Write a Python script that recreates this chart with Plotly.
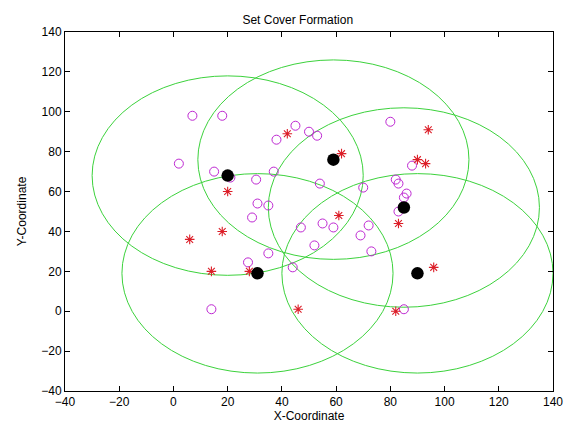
import plotly.graph_objects as go

# Data
circle_x = [7, 18, 2, 15, 21, 30.5, 31, 29, 45, 38, 50, 53, 80, 88, 37, 54, 70, 82, 83, 86, 85, 83,
            35, 47, 55, 59, 72, 69, 52, 73, 35, 27.5, 44, 85, 14]
circle_y = [98, 98, 74, 70, 67, 66, 54, 47, 93, 86, 90, 88, 95, 73, 70, 64, 62, 66, 64, 59, 57, 50,
            53, 42, 44, 42, 43, 38, 33, 30, 29, 24.5, 22, 1, 1]
star_x = [20, 18, 6, 42, 94, 62, 90, 93, 83, 61, 28, 96, 46, 82, 14]
star_y = [60, 40, 36, 89, 91, 79, 76, 74, 44, 48, 20, 22, 1, 0, 20]
center_x = [20, 59, 85, 31, 90]
center_y = [68, 76, 52, 19, 19]
radius = 50

fig = go.Figure()

for cx, cy in zip(center_x, center_y):
    fig.add_shape(type="circle", xref="x", yref="y",
                  x0=cx - radius, x1=cx + radius, y0=cy - radius, y1=cy + radius,
                  line=dict(color="rgb(60,210,60)", width=1), layer="below")

fig.add_trace(go.Scatter(x=circle_x, y=circle_y, mode="markers",
                         marker=dict(symbol="circle-open", size=9, color="rgb(190,40,210)",
                                     line=dict(width=1)),
                         showlegend=False))
fig.add_trace(go.Scatter(x=star_x, y=star_y, mode="markers",
                         marker=dict(symbol="asterisk-open", size=8, color="rgb(220,30,40)",
                                     line=dict(width=1.1, color="rgb(220,30,40)")),
                         showlegend=False))
fig.add_trace(go.Scatter(x=center_x, y=center_y, mode="markers",
                         marker=dict(symbol="circle", size=12.5, color="black"),
                         showlegend=False))

axis_common = dict(showgrid=False, zeroline=False, showline=True, linecolor="black", linewidth=1,
                   mirror="ticks", ticks="inside", ticklen=5, tickcolor="black",
                   tickfont=dict(family="Liberation Sans, Arial", size=12, color="black"))

fig.update_layout(
    width=576, height=432,
    margin=dict(l=65, r=23, t=32, b=41),
    paper_bgcolor="white", plot_bgcolor="white",
    title=dict(text="Set Cover Formation", x=0.517, xanchor="center", y=0.955, yanchor="middle",
               font=dict(family="Liberation Sans, Arial", size=12, color="black")),
    xaxis=dict(range=[-40, 140], dtick=20, tick0=-40,
               title=dict(text="X-Coordinate", standoff=2,
                          font=dict(family="Liberation Sans, Arial", size=12, color="black")),
               **axis_common),
    yaxis=dict(range=[-40, 140], dtick=20, tick0=-40,
               title=dict(text="Y-Coordinate", standoff=12,
                          font=dict(family="Liberation Sans, Arial", size=12, color="black")),
               **axis_common),
)

fig.write_html("out.html")
